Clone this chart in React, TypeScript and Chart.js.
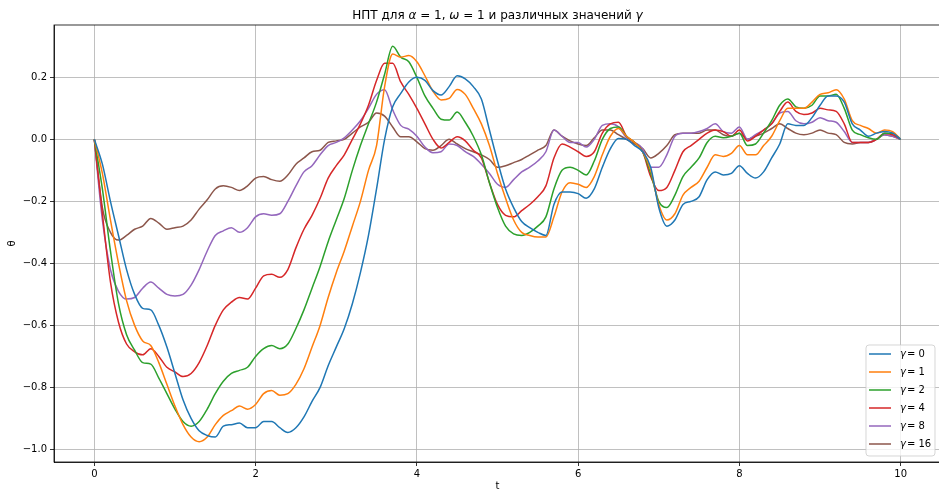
import React, { useEffect, useRef } from "react";
import { Chart, registerables } from "chart.js";
Chart.register(...registerables);

const T = [0, 0.1, 0.2, 0.3, 0.4, 0.5, 0.6, 0.7, 0.8, 0.9, 1, 1.1, 1.2, 1.3, 1.4, 1.5, 1.6, 1.7, 1.8, 1.9, 2, 2.1, 2.2, 2.3, 2.4, 2.5, 2.6, 2.7, 2.8, 2.9, 3, 3.1, 3.2, 3.3, 3.4, 3.5, 3.6, 3.7, 3.8, 3.9, 4, 4.1, 4.2, 4.3, 4.4, 4.5, 4.6, 4.7, 4.8, 4.9, 5, 5.1, 5.2, 5.3, 5.4, 5.5, 5.6, 5.7, 5.8, 5.9, 6, 6.1, 6.2, 6.3, 6.4, 6.5, 6.6, 6.7, 6.8, 6.9, 7, 7.1, 7.2, 7.3, 7.4, 7.5, 7.6, 7.7, 7.8, 7.9, 8, 8.1, 8.2, 8.3, 8.4, 8.5, 8.6, 8.7, 8.8, 8.9, 9, 9.1, 9.2, 9.3, 9.4, 9.5, 9.6, 9.7, 9.8, 9.9, 10];

const G0 = [0, -0.08, -0.2, -0.31, -0.42, -0.5, -0.545, -0.55, -0.6, -0.67, -0.755, -0.84, -0.9, -0.94, -0.955, -0.96, -0.925, -0.92, -0.915, -0.93, -0.93, -0.91, -0.91, -0.93, -0.945, -0.93, -0.895, -0.845, -0.8, -0.73, -0.67, -0.61, -0.53, -0.43, -0.31, -0.16, 0.0, 0.105, 0.148, 0.185, 0.2, 0.19, 0.157, 0.143, 0.17, 0.205, 0.195, 0.17, 0.13, 0.03, -0.07, -0.16, -0.22, -0.265, -0.285, -0.3, -0.31, -0.21, -0.17, -0.17, -0.175, -0.19, -0.16, -0.09, -0.03, 0.003, 0, -0.02, -0.04, -0.09, -0.22, -0.28, -0.26, -0.21, -0.2, -0.185, -0.13, -0.105, -0.115, -0.11, -0.085, -0.11, -0.125, -0.105, -0.06, -0.015, 0.05, 0.045, 0.045, 0.07, 0.11, 0.14, 0.14, 0.12, 0.05, 0.03, 0.01, 0.02, 0.025, 0.02, 0];
const G1 = [0, -0.11, -0.26, -0.4, -0.52, -0.6, -0.65, -0.665, -0.72, -0.79, -0.86, -0.92, -0.96, -0.975, -0.96, -0.92, -0.89, -0.875, -0.86, -0.87, -0.855, -0.82, -0.81, -0.825, -0.82, -0.79, -0.74, -0.67, -0.6, -0.51, -0.43, -0.36, -0.28, -0.2, -0.1, -0.02, 0.17, 0.275, 0.265, 0.27, 0.25, 0.205, 0.155, 0.127, 0.132, 0.161, 0.145, 0.1, 0.05, -0.02, -0.11, -0.19, -0.26, -0.3, -0.31, -0.315, -0.315, -0.25, -0.17, -0.14, -0.145, -0.155, -0.12, -0.05, 0.01, 0.035, 0.01, -0.01, -0.04, -0.1, -0.21, -0.26, -0.24, -0.18, -0.155, -0.135, -0.09, -0.05, -0.055, -0.045, -0.02, -0.05, -0.05, -0.02, 0.01, 0.06, 0.1, 0.1, 0.1, 0.12, 0.145, 0.15, 0.16, 0.13, 0.06, 0.045, 0.035, 0.02, 0.03, 0.025, 0];
const G2 = [0, -0.16, -0.36, -0.53, -0.63, -0.68, -0.72, -0.725, -0.77, -0.82, -0.87, -0.91, -0.925, -0.91, -0.87, -0.82, -0.78, -0.755, -0.745, -0.735, -0.7, -0.675, -0.665, -0.675, -0.66, -0.61, -0.55, -0.48, -0.41, -0.33, -0.26, -0.19, -0.1, -0.02, 0.05, 0.12, 0.21, 0.3, 0.265, 0.25, 0.2, 0.14, 0.1, 0.065, 0.062, 0.088, 0.055, 0.01, -0.05, -0.14, -0.22, -0.28, -0.305, -0.31, -0.3, -0.28, -0.25, -0.16, -0.1, -0.09, -0.1, -0.115, -0.07, 0, 0.035, 0.04, 0.01, -0.01, -0.04, -0.11, -0.2, -0.22, -0.18, -0.12, -0.09, -0.06, -0.01, 0.01, 0.005, 0.01, 0.02, -0.02, -0.015, 0.02, 0.06, 0.11, 0.13, 0.105, 0.1, 0.11, 0.14, 0.14, 0.145, 0.1, 0.03, 0.015, 0.005, 0, 0.02, 0.02, 0];
const G4 = [0, -0.24, -0.46, -0.59, -0.66, -0.685, -0.695, -0.675, -0.7, -0.735, -0.75, -0.765, -0.755, -0.72, -0.665, -0.6, -0.55, -0.525, -0.51, -0.515, -0.48, -0.44, -0.435, -0.445, -0.42, -0.35, -0.29, -0.245, -0.19, -0.125, -0.085, -0.05, 0, 0.05, 0.11, 0.19, 0.245, 0.245, 0.185, 0.145, 0.1, 0.05, 0, -0.028, -0.01, 0.008, -0.005, -0.035, -0.06, -0.14, -0.21, -0.245, -0.25, -0.23, -0.21, -0.185, -0.15, -0.06, -0.015, -0.025, -0.04, -0.055, -0.04, 0.02, 0.05, 0.055, 0.01, -0.01, -0.04, -0.12, -0.165, -0.155, -0.1, -0.04, -0.02, 0, 0.02, 0.03, 0.025, 0.01, 0.03, -0.005, 0.01, 0.03, 0.05, 0.09, 0.12, 0.09, 0.08, 0.085, 0.1, 0.095, 0.09, 0.05, -0.01, -0.01, -0.01, 0, 0.02, 0.015, 0];
const G8 = [0, -0.26, -0.42, -0.49, -0.515, -0.51, -0.48, -0.46, -0.48, -0.5, -0.505, -0.5, -0.47, -0.42, -0.36, -0.31, -0.295, -0.285, -0.3, -0.285, -0.25, -0.24, -0.245, -0.24, -0.2, -0.15, -0.105, -0.085, -0.05, -0.02, -0.01, 0.005, 0.03, 0.06, 0.1, 0.145, 0.16, 0.095, 0.045, 0.033, 0.01, -0.025, -0.043, -0.04, -0.015, -0.02, -0.04, -0.055, -0.08, -0.11, -0.145, -0.155, -0.13, -0.105, -0.09, -0.07, -0.04, 0.03, 0.01, -0.01, -0.01, -0.025, 0, 0.045, 0.05, 0.04, 0.005, -0.01, -0.03, -0.09, -0.09, -0.05, 0.01, 0.02, 0.02, 0.025, 0.035, 0.05, 0.025, 0.02, 0.04, 0, 0.015, 0.03, 0.05, 0.085, 0.09, 0.06, 0.05, 0.055, 0.07, 0.06, 0.055, 0.025, -0.01, -0.01, -0.01, 0, 0.015, 0.01, 0];
const G16 = [0, -0.22, -0.3, -0.325, -0.31, -0.29, -0.28, -0.255, -0.27, -0.29, -0.285, -0.28, -0.26, -0.225, -0.195, -0.16, -0.15, -0.155, -0.165, -0.15, -0.125, -0.12, -0.13, -0.135, -0.115, -0.08, -0.06, -0.04, -0.035, -0.01, -0.005, 0, 0.02, 0.04, 0.055, 0.085, 0.075, 0.04, 0.008, 0.008, -0.008, -0.03, -0.035, -0.02, 0.0, -0.015, -0.03, -0.04, -0.05, -0.065, -0.09, -0.085, -0.075, -0.065, -0.05, -0.035, -0.02, 0.03, 0.01, -0.005, -0.015, -0.02, 0.005, 0.03, 0.03, 0.015, 0, -0.015, -0.03, -0.06, -0.045, -0.02, 0.015, 0.02, 0.02, 0.02, 0.03, 0.03, 0.015, 0.01, 0.02, 0, 0.01, 0.02, 0.035, 0.05, 0.035, 0.02, 0.015, 0.02, 0.03, 0.02, 0.015, -0.01, -0.015, -0.01, -0.01, 0, 0.015, 0.01, 0];

const SERIES = [G0, G1, G2, G4, G8, G16];
const GAMMAS = ["0", "1", "2", "4", "8", "16"];
const COLORS = ["#1f77b4", "#ff7f0e", "#2ca02c", "#d62728", "#9467bd", "#8c564b"];
const Y_TICKS = [-1.0, -0.8, -0.6, -0.4, -0.2, 0.0, 0.2];
const X_TICKS = [0, 2, 4, 6, 8, 10];
const FONT = "'DejaVu Sans', sans-serif";

const decorPlugin = {
  id: "decor",
  afterDraw(chart: any) {
    const ctx = chart.ctx;
    const a = chart.chartArea;
    ctx.save();
    ctx.strokeStyle = "#000";
    ctx.lineWidth = 0.8;
    ctx.strokeRect(a.left, a.top, a.right - a.left, a.bottom - a.top);

    const segs: [string, boolean][] = [
      ["НПТ для ", false], ["α", true], [" = 1, ", false], ["ω", true],
      [" = 1 и различных значений ", false], ["γ", true],
    ];
    const fN = `12px ${FONT}`;
    const fI = `italic 12px ${FONT}`;
    let total = 0;
    for (const [s, it] of segs) { ctx.font = it ? fI : fN; total += ctx.measureText(s).width; }
    let x = (a.left + a.right) / 2 - total / 2;
    ctx.fillStyle = "#000";
    ctx.textBaseline = "alphabetic";
    ctx.textAlign = "left";
    for (const [s, it] of segs) { ctx.font = it ? fI : fN; ctx.fillText(s, x, 19); x += ctx.measureText(s).width; }

    ctx.font = `10px ${FONT}`;
    ctx.textAlign = "center";
    ctx.textBaseline = "middle";
    ctx.fillText("t", (a.left + a.right) / 2, 486);
    ctx.save();
    ctx.translate(12, (a.top + a.bottom) / 2);
    ctx.rotate(-Math.PI / 2);
    ctx.fillText("θ", 0, 0);
    ctx.restore();

    const lx = 866, ly = 345, lw = 69, lh = 111;
    ctx.beginPath();
    const r = 3;
    ctx.moveTo(lx + r, ly);
    ctx.arcTo(lx + lw, ly, lx + lw, ly + lh, r);
    ctx.arcTo(lx + lw, ly + lh, lx, ly + lh, r);
    ctx.arcTo(lx, ly + lh, lx, ly, r);
    ctx.arcTo(lx, ly, lx + lw, ly, r);
    ctx.closePath();
    ctx.fillStyle = "rgba(255,255,255,0.8)";
    ctx.fill();
    ctx.strokeStyle = "rgba(204,204,204,0.8)";
    ctx.lineWidth = 1;
    ctx.stroke();
    ctx.textBaseline = "middle";
    ctx.textAlign = "left";
    GAMMAS.forEach((g, i) => {
      const yy = 354 + i * 18;
      ctx.strokeStyle = COLORS[i];
      ctx.lineWidth = 1.5;
      ctx.beginPath();
      ctx.moveTo(869, yy);
      ctx.lineTo(891, yy);
      ctx.stroke();
      ctx.fillStyle = "#000";
      ctx.font = `italic 10px ${FONT}`;
      ctx.fillText("γ", 900, yy);
      const w = ctx.measureText("γ").width;
      ctx.font = `10px ${FONT}`;
      ctx.fillText("= " + g, 900 + w + 1, yy);
    });
    ctx.restore();
  },
};

export default function App() {
  const ref = useRef<HTMLCanvasElement>(null);
  useEffect(() => {
    document.body.style.margin = "0";
    const c = ref.current!;
    const chart = new Chart(c, {
      type: "line",
      data: {
        datasets: SERIES.map((s, i) => ({
          label: "γ = " + GAMMAS[i],
          data: s.map((v, j) => ({ x: T[j], y: v })),
          borderColor: COLORS[i],
          backgroundColor: COLORS[i],
          borderWidth: 1.5,
          pointRadius: 0,
          cubicInterpolationMode: "monotone" as const,
          fill: false,
        })),
      },
      options: {
        animation: false,
        responsive: false,
        maintainAspectRatio: false,
        layout: { padding: { top: 25, right: 1, left: 0, bottom: 0 } },
        plugins: { legend: { display: false }, title: { display: false }, tooltip: { enabled: false } },
        scales: {
          x: {
            type: "linear",
            min: -0.5,
            max: 10.5,
            afterBuildTicks: (s: any) => { s.ticks = X_TICKS.map((v) => ({ value: v })); },
            afterFit: (s: any) => { s.height = 30; },
            ticks: { font: { family: FONT, size: 10 }, color: "#000", padding: 2, maxRotation: 0, callback: (v: any) => String(v) },
            grid: { color: "#b0b0b0", lineWidth: 0.8, tickColor: "#000", tickLength: 4, drawTicks: true },
            border: { display: true, color: "#000", width: 0.8 },
          },
          y: {
            type: "linear",
            min: -1.0405,
            max: 0.3687,
            afterBuildTicks: (s: any) => { s.ticks = Y_TICKS.map((v) => ({ value: v })); },
            afterFit: (s: any) => { s.width = 54; },
            ticks: { font: { family: FONT, size: 10 }, color: "#000", padding: 3, callback: (v: any) => Number(v).toFixed(1).replace("-", "\u2212") },
            grid: { color: "#b0b0b0", lineWidth: 0.8, tickColor: "#000", tickLength: 4, drawTicks: true },
            border: { display: true, color: "#000", width: 0.8 },
          },
        },
      },
      plugins: [decorPlugin],
    });
    return () => chart.destroy();
  }, []);
  return (
    <div style={{ width: 939, height: 492, overflow: "hidden", background: "#fff" }}>
      <canvas ref={ref} width={942} height={492} style={{ display: "block" }} />
    </div>
  );
}
